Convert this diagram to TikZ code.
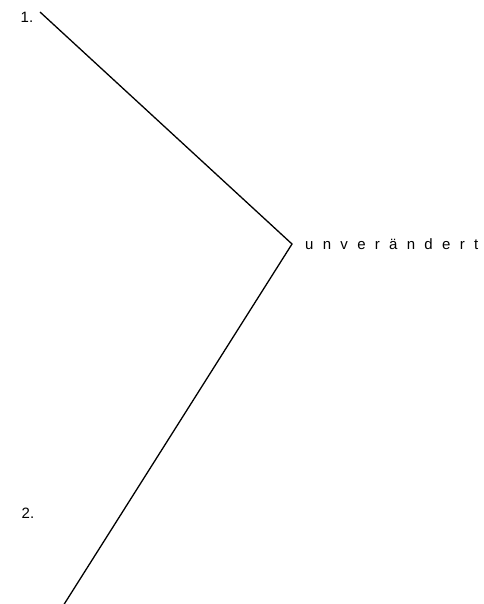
\documentclass[tikz,border=0pt]{standalone}
\usepackage{fontspec}
\setmainfont{Liberation Sans}
\usetikzlibrary{positioning}

\begin{document}
\begin{tikzpicture}[x=1pt, y=-1pt, font=\fontsize{15}{17}\selectfont,
  lbl/.style={inner sep=0pt, anchor=base west},
  stroke/.style={line width=1.3pt}]
\useasboundingbox (0,0) rectangle (483,604);

% ---------------- the bent line ----------------
\coordinate (top) at (40,12);
\coordinate (bend) at (292,244);
\coordinate (bottom) at (63,606);
\draw[stroke] (top) -- (bend) -- (bottom);

% ---------------- labels ----------------
\node[lbl] (one) at (20.5,23) {1.};
\node[lbl] (two) at (21.5,518) {2.};
\node[lbl] (unv) at (305,249) {\addfontfeature{LetterSpace=62}unverändert};
\end{tikzpicture}
\end{document}
